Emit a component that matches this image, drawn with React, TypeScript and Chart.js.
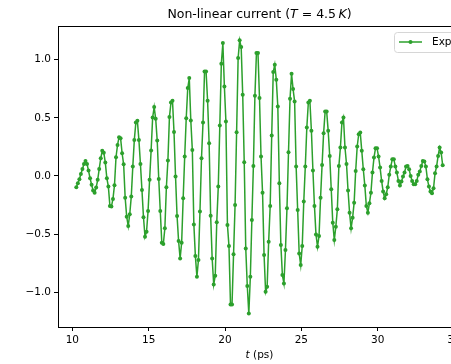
import React, { useEffect, useRef } from "react";
import { Chart, registerables } from "chart.js";

Chart.register(...registerables);

// Time axis (ps)
const TIME_PS = [
  10.26, 10.36, 10.46, 10.56, 10.66, 10.76, 10.86, 10.96, 11.06, 11.16,
  11.26, 11.36, 11.46, 11.56, 11.66, 11.76, 11.86, 11.96, 12.06, 12.16,
  12.26, 12.36, 12.46, 12.56, 12.66, 12.76, 12.86, 12.96, 13.06, 13.16,
  13.26, 13.36, 13.46, 13.56, 13.66, 13.76, 13.86, 13.96, 14.06, 14.16,
  14.26, 14.36, 14.46, 14.56, 14.66, 14.76, 14.86, 14.96, 15.06, 15.16,
  15.26, 15.36, 15.46, 15.56, 15.66, 15.76, 15.86, 15.96, 16.06, 16.16,
  16.26, 16.36, 16.46, 16.56, 16.66, 16.76, 16.86, 16.96, 17.06, 17.16,
  17.26, 17.36, 17.46, 17.56, 17.66, 17.76, 17.86, 17.96, 18.06, 18.16,
  18.26, 18.36, 18.46, 18.56, 18.66, 18.76, 18.86, 18.96, 19.06, 19.16,
  19.26, 19.36, 19.46, 19.56, 19.66, 19.76, 19.86, 19.96, 20.06, 20.16,
  20.26, 20.36, 20.46, 20.56, 20.66, 20.76, 20.86, 20.96, 21.06, 21.16,
  21.26, 21.36, 21.46, 21.56, 21.66, 21.76, 21.86, 21.96, 22.06, 22.16,
  22.26, 22.36, 22.46, 22.56, 22.66, 22.76, 22.86, 22.96, 23.06, 23.16,
  23.26, 23.36, 23.46, 23.56, 23.66, 23.76, 23.86, 23.96, 24.06, 24.16,
  24.26, 24.36, 24.46, 24.56, 24.66, 24.76, 24.86, 24.96, 25.06, 25.16,
  25.26, 25.36, 25.46, 25.56, 25.66, 25.76, 25.86, 25.96, 26.06, 26.16,
  26.26, 26.36, 26.46, 26.56, 26.66, 26.76, 26.86, 26.96, 27.06, 27.16,
  27.26, 27.36, 27.46, 27.56, 27.66, 27.76, 27.86, 27.96, 28.06, 28.16,
  28.26, 28.36, 28.46, 28.56, 28.66, 28.76, 28.86, 28.96, 29.06, 29.16,
  29.26, 29.36, 29.46, 29.56, 29.66, 29.76, 29.86, 29.96, 30.06, 30.16,
  30.26, 30.36, 30.46, 30.56, 30.66, 30.76, 30.86, 30.96, 31.06, 31.16,
  31.26, 31.36, 31.46, 31.56, 31.66, 31.76, 31.86, 31.96, 32.06, 32.16,
  32.26, 32.36, 32.46, 32.56, 32.66, 32.76, 32.86, 32.96, 33.06, 33.16,
  33.26, 33.36, 33.46, 33.56, 33.66, 33.76, 33.86, 33.96, 34.06, 34.16,
  34.26,
];

// Measured non-linear current ("Exp")
const CURRENT = [
  -0.098, -0.063, -0.029, 0.017, 0.060, 0.103, 0.129, 0.103, 0.046, -0.020,
  -0.075, -0.126, -0.144, -0.100, -0.034, 0.060, 0.152, 0.216, 0.200, 0.115,
  -0.020, -0.092, -0.259, -0.264, -0.198, -0.080, 0.161, 0.267, 0.333, 0.325,
  0.195, 0.100, -0.187, -0.351, -0.431, -0.330, -0.178, 0.080, 0.310, 0.460,
  0.474, 0.310, 0.103, -0.121, -0.356, -0.523, -0.480, -0.302, -0.034, 0.218,
  0.503, 0.592, 0.491, 0.304, -0.026, -0.302, -0.575, -0.586, -0.451, -0.098,
  0.132, 0.506, 0.632, 0.647, 0.377, -0.006, -0.345, -0.560, -0.710, -0.575,
  -0.192, 0.167, 0.497, 0.756, 0.842, 0.477, 0.224, -0.417, -0.690, -0.868,
  -0.724, -0.307, 0.152, 0.460, 0.899, 0.899, 0.647, 0.282, -0.342, -0.710,
  -0.934, -0.859, -0.399, -0.092, 0.434, 0.966, 1.144, 0.770, 0.468, -0.422,
  -0.603, -1.106, -1.106, -0.675, -0.250, 0.376, 1.014, 1.167, 1.109, 0.698,
  0.118, -0.624, -0.948, -1.184, -0.868, -0.379, 0.086, 0.690, 1.057, 1.057,
  0.670, 0.167, -0.144, -0.681, -0.997, -0.954, -0.566, -0.259, 0.348, 0.894,
  0.957, 0.828, 0.598, -0.063, -0.595, -0.853, -0.925, -0.638, -0.279, 0.204,
  0.664, 0.879, 0.747, 0.641, 0.080, -0.293, -0.667, -0.767, -0.603, -0.221,
  0.080, 0.417, 0.632, 0.647, 0.388, 0.046, -0.259, -0.503, -0.609, -0.517,
  -0.187, 0.095, 0.368, 0.555, 0.555, 0.388, 0.172, -0.115, -0.402, -0.552,
  -0.437, -0.287, 0.086, 0.244, 0.460, 0.503, 0.244, 0.103, -0.126, -0.316,
  -0.451, -0.359, -0.230, 0.043, 0.253, 0.359, 0.374, 0.216, 0.057, -0.083,
  -0.259, -0.316, -0.236, -0.144, 0.029, 0.158, 0.239, 0.239, 0.167, 0.072,
  -0.043, -0.135, -0.193, -0.158, -0.098, 0.009, 0.080, 0.144, 0.144, 0.080,
  0.029, -0.043, -0.083, -0.049, -0.006, 0.029, 0.080, 0.086, 0.057, 0.000,
  -0.043, -0.072, -0.072, -0.043, 0.009, 0.037, 0.086, 0.129, 0.124, 0.080,
  -0.029, -0.092, -0.135, -0.149, -0.106, 0.023, 0.080, 0.172, 0.244, 0.201,
  0.092,
];

const X_TICKS = [10, 15, 20, 25, 30, 35];
const Y_TICKS = [-1.0, -0.5, 0.0, 0.5, 1.0];
const X_RANGE = [9.06, 35.46];
const Y_RANGE = [-1.3, 1.29];
const SERIES_LABEL = "Exp";

type Part = { text: string; italic: boolean };
const TITLE_PARTS: Part[] = [
  { text: "Non-linear current (", italic: false },
  { text: "T", italic: true },
  { text: " = 4.5\u2009", italic: false },
  { text: "K", italic: true },
  { text: ")", italic: false },
];
const X_LABEL_PARTS: Part[] = [
  { text: "t", italic: true },
  { text: " (ps)", italic: false },
];

const GREEN = "#2ca02c";
const FONT = "'DejaVu Sans', sans-serif";

function drawParts(ctx: CanvasRenderingContext2D, parts: Part[], cx: number, cy: number, size: number) {
  const fonts = parts.map((p) => `${p.italic ? "italic " : ""}${size}px ${FONT}`);
  let total = 0;
  const widths = parts.map((p, i) => {
    ctx.font = fonts[i];
    const w = ctx.measureText(p.text).width;
    total += w;
    return w;
  });
  let x = cx - total / 2;
  ctx.textBaseline = "middle";
  ctx.textAlign = "left";
  ctx.fillStyle = "#000";
  parts.forEach((p, i) => {
    ctx.font = fonts[i];
    ctx.fillText(p.text, x, cy);
    x += widths[i];
  });
}

const decorPlugin = {
  id: "decor",
  afterDraw(chart: any) {
    const { ctx, chartArea } = chart;
    ctx.save();
    // top and right spines
    ctx.strokeStyle = "#000";
    ctx.lineWidth = 1;
    ctx.beginPath();
    ctx.moveTo(chartArea.left, chartArea.top + 0.5);
    ctx.lineTo(chartArea.right, chartArea.top + 0.5);
    ctx.moveTo(chartArea.right - 0.5, chartArea.top);
    ctx.lineTo(chartArea.right - 0.5, chartArea.bottom);
    ctx.stroke();

    const cx = (chartArea.left + chartArea.right) / 2;
    drawParts(ctx, TITLE_PARTS, cx, 15, 12.5);
    drawParts(ctx, X_LABEL_PARTS, cx, 355, 10.5);

    // legend (upper right)
    const bx = 394.5, by = 32.5, bw = 62, bh = 20, r = 3;
    ctx.beginPath();
    ctx.moveTo(bx + r, by);
    ctx.lineTo(bx + bw - r, by);
    ctx.arcTo(bx + bw, by, bx + bw, by + r, r);
    ctx.lineTo(bx + bw, by + bh - r);
    ctx.arcTo(bx + bw, by + bh, bx + bw - r, by + bh, r);
    ctx.lineTo(bx + r, by + bh);
    ctx.arcTo(bx, by + bh, bx, by + bh - r, r);
    ctx.lineTo(bx, by + r);
    ctx.arcTo(bx, by, bx + r, by, r);
    ctx.closePath();
    ctx.fillStyle = "rgba(255,255,255,0.8)";
    ctx.fill();
    ctx.strokeStyle = "#d6d6d6";
    ctx.lineWidth = 1;
    ctx.stroke();

    const ly = 42;
    ctx.strokeStyle = GREEN;
    ctx.lineWidth = 1.5;
    ctx.beginPath();
    ctx.moveTo(399, ly);
    ctx.lineTo(422, ly);
    ctx.stroke();
    ctx.fillStyle = GREEN;
    ctx.beginPath();
    ctx.arc(410.5, ly, 2, 0, Math.PI * 2);
    ctx.fill();

    ctx.fillStyle = "#000";
    ctx.font = `10.5px ${FONT}`;
    ctx.textAlign = "left";
    ctx.textBaseline = "middle";
    ctx.fillText(SERIES_LABEL, 432, ly);
    ctx.restore();
  },
};

export default function App() {
  const ref = useRef<HTMLCanvasElement | null>(null);

  useEffect(() => {
    if (!ref.current) return;
    const points = TIME_PS.map((t, i) => ({ x: t, y: CURRENT[i] }));
    const tickFont = { family: FONT, size: 10.5 };
    const chart = new Chart(ref.current, {
      type: "line",
      data: {
        datasets: [
          {
            label: SERIES_LABEL,
            data: points,
            borderColor: GREEN,
            backgroundColor: GREEN,
            borderWidth: 1.5,
            pointRadius: 2,
            pointHoverRadius: 2,
            pointBorderWidth: 0,
            pointBackgroundColor: GREEN,
            tension: 0,
            fill: false,
          },
        ],
      },
      options: {
        animation: false,
        responsive: false,
        devicePixelRatio: 1,
        parsing: false as any,
        layout: { padding: { top: 26, right: 39, bottom: 0, left: 0 } },
        plugins: {
          legend: { display: false },
          tooltip: { enabled: false },
          title: { display: false },
        },
        scales: {
          x: {
            type: "linear",
            min: X_RANGE[0],
            max: X_RANGE[1],
            afterBuildTicks: (s: any) => {
              s.ticks = X_TICKS.map((v) => ({ value: v }));
            },
            afterFit: (s: any) => {
              s.height = 37;
            },
            grid: {
              display: true,
              drawOnChartArea: false,
              drawTicks: true,
              tickLength: 4,
              color: "#000",
              lineWidth: 1,
            },
            border: { display: true, color: "#000", width: 1 },
            ticks: {
              font: tickFont,
              color: "#000",
              padding: 3,
              maxRotation: 0,
              autoSkip: false,
              callback: (v: any) => String(v),
            },
          },
          y: {
            type: "linear",
            min: Y_RANGE[0],
            max: Y_RANGE[1],
            afterBuildTicks: (s: any) => {
              s.ticks = Y_TICKS.map((v) => ({ value: v }));
            },
            afterFit: (s: any) => {
              s.width = 58;
            },
            grid: {
              display: true,
              drawOnChartArea: false,
              drawTicks: true,
              tickLength: 4,
              color: "#000",
              lineWidth: 1,
            },
            border: { display: true, color: "#000", width: 1 },
            ticks: {
              font: tickFont,
              color: "#000",
              padding: 3,
              autoSkip: false,
              callback: (v: any) => {
                const s = Number(v).toFixed(1);
                return s.startsWith("-") ? "\u2212" + s.slice(1) : s;
              },
            },
          },
        },
      },
      plugins: [decorPlugin],
    });
    return () => chart.destroy();
  }, []);

  return (
    <div
      style={{
        position: "fixed",
        left: 0,
        top: 0,
        width: 451,
        height: 364,
        overflow: "hidden",
        background: "#fff",
      }}
    >
      <canvas ref={ref} width={500} height={364} style={{ width: 500, height: 364, display: "block" }} />
    </div>
  );
}
